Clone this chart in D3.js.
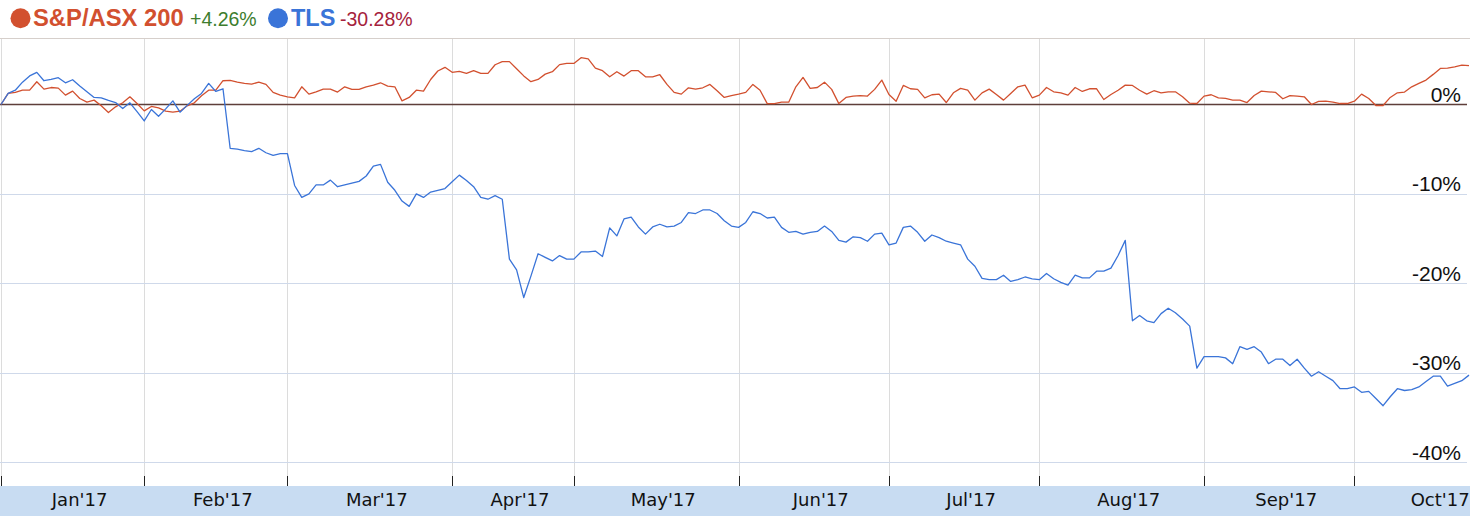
<!DOCTYPE html>
<html>
<head>
<meta charset="utf-8">
<script src="https://cdn.jsdelivr.net/npm/d3@7"></script>
<style>
  html, body { margin: 0; padding: 0; background: #fff; }
  svg { display: block; }
</style>
</head>
<body>
<svg id="chart" width="1470" height="516"></svg>
<script>
// ---- Data (cumulative % change since first trading day of 2017; one value per ASX trading day) ----
const seriesNames = ["S&P/ASX 200", "TLS"];
const seriesChange = ["+4.26%", "-30.28%"];

const asx = [
  0, 1.24, 1.35, 1.6, 1.6, 2.55, 1.72, 1.9, 1.83, 1.05,
  1.5, 0.67, 0.26, 0.49, -0.15, -0.9, -0.26, 0.19, 0.86, 0.11,
  -0.71, -0.22, -0.37, -0.75, -0.86, -0.75, -0.15, 0.19, 0.97, 1.6,
  1.6, 2.66, 2.7, 2.5, 2.36, 2.28, 2.5, 2.25, 1.35, 1.05,
  0.86, 0.75, 1.98, 1.16, 1.42, 1.72, 1.72, 1.39, 1.98, 1.69,
  1.69, 1.98, 2.17, 2.43, 2.06, 1.98, 0.41, 0.79, 1.6, 1.5,
  2.8, 3.75, 4.16, 3.6, 3.7, 3.48, 3.78, 3.48, 3.48, 4.45,
  4.8, 4.8, 4.0, 3.2, 2.55, 2.8, 3.4, 3.67, 4.46, 4.6,
  4.6, 5.24, 5.1, 4.08, 3.78, 3.1, 3.67, 3.18, 3.78, 3.78,
  3.1, 3.1, 3.33, 2.25, 1.35, 1.16, 1.87, 1.72, 1.87, 2.25,
  1.54, 0.79, 1.0, 1.16, 1.35, 2.25, 1.6, 0.1, 0.1, 0.26,
  0.26, 1.98, 3.03, 1.8, 1.9, 2.5, 1.69, 0.1, 0.79, 0.94,
  1.0, 0.94, 1.69, 2.73, 1.12, 0.37, 2.13, 1.76, 1.69, 0.75,
  1.09, 1.16, 0.22, 1.31, 1.8, 1.6, 0.49, 1.3, 1.72, 1.12,
  0.49, 1.24, 1.98, 2.17, 0.75, 1.05, 1.9, 1.42, 1.31, 1.05,
  1.9, 1.46, 1.76, 1.76, 0.56, 1.12, 1.6, 2.17, 2.13, 1.6,
  1.16, 1.54, 1.31, 1.42, 1.42, 0.86, 0.15, 0.11, 0.94, 1.09,
  0.75, 0.69, 0.49, 0.49, 0.22, 1.0, 1.5, 1.42, 1.35, 0.64,
  1.0, 0.94, 0.86, 0, 0.34, 0.37, 0.26, 0.11, 0.11, 0.37,
  1.16, 0.67, -0.11, -0.11, 0.79, 1.31, 1.39, 1.98, 2.36, 2.73,
  3.37, 4.04, 4.08, 4.22, 4.4, 4.35
];

const tls = [
  0, 1.24, 1.6, 2.5, 3.2, 3.6, 2.66, 2.8, 3.0, 2.43,
  2.77, 2.06, 1.42, 0.79, 0.75, 0.45, 0.22, -0.45, 0.19, -0.79,
  -1.84, -0.56, -1.31, -0.49, 0.41, -0.86, -0.1, 0.64, 1.24, 2.36,
  1.46, 1.76, -4.9, -5.0, -5.15, -5.28, -4.9, -5.4, -5.7, -5.5,
  -5.5, -9.06, -10.4, -10.0, -9.0, -9.0, -8.46, -9.2, -9.0, -8.8,
  -8.6, -8.0, -6.9, -6.7, -8.7, -9.6, -10.8, -11.4, -10.0, -10.4,
  -9.8, -9.6, -9.4, -8.65, -7.9, -8.5, -9.2, -10.4, -10.6, -10.2,
  -10.6, -17.3, -18.5, -21.6, -19.2, -16.7, -17.1, -17.5, -16.9, -17.3,
  -17.3, -16.5, -16.5, -16.4, -17.0, -13.8, -14.7, -12.8, -12.6, -13.7,
  -14.5, -13.7, -13.4, -13.7, -13.6, -13.2, -12.1, -12.2, -11.8, -11.8,
  -12.2, -13.0, -13.6, -13.75, -13.2, -12.0, -12.2, -12.7, -12.6, -13.75,
  -14.3, -14.2, -14.5, -14.3, -14.2, -13.6, -14.2, -15.2, -15.4, -14.8,
  -14.9, -15.3, -14.5, -14.4, -15.7, -15.5, -13.75, -13.6, -14.3, -15.3,
  -14.6, -14.9, -15.3, -15.5, -15.7, -17.3, -18.1, -19.45, -19.6, -19.6,
  -19.1, -19.8, -19.6, -19.3, -19.5, -19.6, -18.9, -19.5, -19.9, -20.2,
  -19.1, -19.4, -19.4, -18.65, -18.65, -18.3, -16.9, -15.2, -24.2, -23.6,
  -24.2, -24.4, -23.4, -22.8, -23.3, -24.0, -24.8, -29.5, -28.2, -28.2,
  -28.2, -28.35, -29.0, -27.1, -27.4, -27.1, -27.7, -29.0, -28.5, -28.5,
  -29.2, -28.5, -29.5, -30.4, -29.9, -30.4, -30.9, -31.8, -31.8, -31.6,
  -32.2, -32.1, -32.9, -33.7, -32.7, -31.8, -32.0, -31.9, -31.6, -31.0,
  -30.4, -30.4, -31.5, -31.2, -30.9, -30.28
];

// month labels, index of first trading day of each month, trading days in month
const monthLabels = ["Jan'17", "Feb'17", "Mar'17", "Apr'17", "May'17", "Jun'17", "Jul'17", "Aug'17", "Sep'17", "Oct'17"];
const monthStart  = [0, 20, 40, 63, 80, 103, 124, 145, 168, 189];
const monthDays   = [20, 20, 23, 17, 23, 21, 21, 23, 21, 22];

const yTicks = [0, -10, -20, -30, -40];

// ---- Drawing ----
const svg = d3.select("#chart");
const W = 1470;

const colors = { asx: "#d2502f", tls: "#3a74d8" };

const x = d3.scaleLinear().domain([0, asx.length - 1]).range([1, 1469]);
const y = d3.scaleLinear().domain([-40, 0]).range([462, 104.5]);

const plotTop = 38, gridBottom = 476, bandTop = 486;

// top border
svg.append("line").attr("x1", 0).attr("x2", W).attr("y1", plotTop + 0.5).attr("y2", plotTop + 0.5)
  .attr("stroke", "#d6cfcb").attr("stroke-width", 1);

// vertical month gridlines
svg.append("g").selectAll("line").data(monthStart).join("line")
  .attr("x1", d => Math.round(x(d)) + 0.5).attr("x2", d => Math.round(x(d)) + 0.5)
  .attr("y1", plotTop + 1).attr("y2", gridBottom)
  .attr("stroke", "#dcdcdc").attr("stroke-width", 1);

// horizontal gridlines (negative levels)
svg.append("g").selectAll("line").data(yTicks.filter(t => t !== 0)).join("line")
  .attr("x1", 0).attr("x2", 1467)
  .attr("y1", d => Math.round(y(d)) + 0.5).attr("y2", d => Math.round(y(d)) + 0.5)
  .attr("stroke", "#cfd9ea").attr("stroke-width", 1);

// zero line
svg.append("line").attr("x1", 0).attr("x2", 1467)
  .attr("y1", y(0)).attr("y2", y(0))
  .attr("stroke", "#5e3f3a").attr("stroke-width", 1.3);

// series lines
const line = d3.line().x((d, i) => x(i)).y(d => y(d));
svg.append("path").datum(asx).attr("d", line)
  .attr("fill", "none").attr("stroke", colors.asx).attr("stroke-width", 1.3).attr("stroke-linejoin", "round");
svg.append("path").datum(tls).attr("d", line)
  .attr("fill", "none").attr("stroke", colors.tls).attr("stroke-width", 1.3).attr("stroke-linejoin", "round");

// right axis labels
svg.append("g").selectAll("text").data(yTicks).join("text")
  .attr("x", 1461).attr("y", d => y(d) - 2.5)
  .attr("text-anchor", "end")
  .attr("font-family", "'Liberation Sans', Arial, sans-serif")
  .attr("font-size", 21)
  .attr("fill", "#111")
  .text(d => d + "%");

// bottom band
svg.append("rect").attr("x", 0).attr("y", bandTop).attr("width", W).attr("height", 516 - bandTop)
  .attr("fill", "#c8dcf2");

// tick marks
svg.append("g").selectAll("line").data(monthStart).join("line")
  .attr("x1", d => Math.round(x(d)) + 0.5).attr("x2", d => Math.round(x(d)) + 0.5)
  .attr("y1", gridBottom).attr("y2", bandTop)
  .attr("stroke", "#222").attr("stroke-width", 1);

// month labels
svg.append("g").selectAll("text").data(monthLabels).join("text")
  .attr("x", (d, i) => x(monthStart[i] + monthDays[i] / 2) + 7)
  .attr("y", 506)
  .attr("text-anchor", "middle")
  .attr("font-family", "'DejaVu Sans', Verdana, sans-serif")
  .attr("font-size", 18)
  .attr("fill", "#111")
  .text(d => d);

// legend
const lg = svg.append("g").attr("font-family", "'Liberation Sans', Arial, sans-serif");
lg.append("circle").attr("cx", 20.5).attr("cy", 18.3).attr("r", 10).attr("fill", colors.asx);
lg.append("text").attr("x", 33).attr("y", 26).attr("font-size", 23.8).attr("font-weight", "bold")
  .attr("fill", colors.asx).text(seriesNames[0]);
lg.append("text").attr("x", 190).attr("y", 26).attr("font-size", 19.5)
  .attr("fill", "#3d7d2e").text(seriesChange[0]);
lg.append("circle").attr("cx", 278).attr("cy", 18.3).attr("r", 10).attr("fill", colors.tls);
lg.append("text").attr("x", 291).attr("y", 26).attr("font-size", 23.5).attr("font-weight", "bold")
  .attr("fill", colors.tls).text(seriesNames[1]);
lg.append("text").attr("x", 340).attr("y", 26).attr("font-size", 19.5)
  .attr("fill", "#a5223c").text(seriesChange[1]);
</script>
</body>
</html>
